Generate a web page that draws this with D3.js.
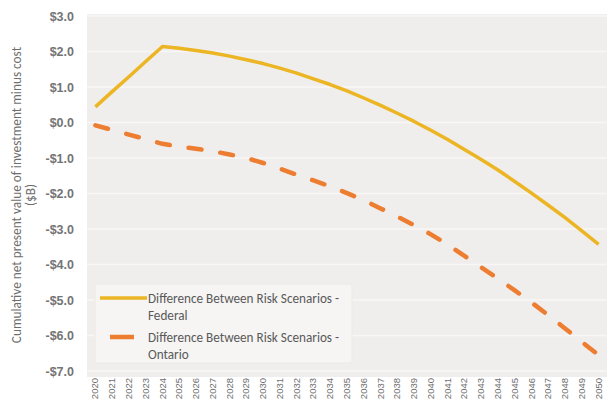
<!DOCTYPE html>
<html>
<head>
<meta charset="utf-8">
<script src="https://cdn.jsdelivr.net/npm/d3@7"></script>
<style>
  html, body { margin: 0; padding: 0; background: #ffffff; }
  svg { display: block; font-family: Carlito, Lato, "Open Sans", "Noto Sans", sans-serif; }
</style>
</head>
<body>
<svg id="chart" width="607" height="403"></svg>
<script>
// Years on the category axis
const years = d3.range(2020, 2051).map(String);

// Cumulative NPV of investment minus cost ($B), difference between risk scenarios
const federal = [
  0.44, 0.87, 1.29, 1.72, 2.14, 2.09, 2.03, 1.96, 1.87, 1.77,
  1.66, 1.53, 1.39, 1.23, 1.07, 0.89, 0.69, 0.48, 0.26, 0.03,
  -0.22, -0.48, -0.76, -1.04, -1.34, -1.66, -1.99, -2.33, -2.68, -3.05,
  -3.43
];
const ontario = [
  -0.08, -0.21, -0.34, -0.47, -0.60, -0.68, -0.74, -0.81, -0.90, -1.00,
  -1.14, -1.30, -1.47, -1.63, -1.80, -1.99, -2.19, -2.42, -2.65, -2.89,
  -3.15, -3.44, -3.76, -4.08, -4.40, -4.73, -5.07, -5.43, -5.80, -6.18,
  -6.55
];

// Y axis ticks and series labels
const yTicks = [3, 2, 1, 0, -1, -2, -3, -4, -5, -6, -7];
const seriesNames = [
  ["Difference Between Risk Scenarios -", "Federal"],
  ["Difference Between Risk Scenarios -", "Ontario"]
];
const colors = ["#ebb523", "#ed7d31"];

const svg = d3.select("#chart");
const plot = { left: 87, right: 607, top: 16, bottom: 371 };

const x = d3.scaleBand().domain(years).range([plot.left, plot.right]);
const y = d3.scaleLinear().domain([-7, 3]).range([plot.bottom, plot.top]);

// Plot area background
svg.append("rect")
  .attr("x", plot.left).attr("y", plot.top - 2)
  .attr("width", plot.right - plot.left).attr("height", plot.bottom - plot.top + 8)
  .attr("fill", "#f0eeec");

// Horizontal gridlines
svg.append("g")
  .selectAll("line")
  .data(yTicks)
  .join("line")
  .attr("x1", plot.left).attr("x2", plot.right)
  .attr("y1", d => y(d)).attr("y2", d => y(d))
  .attr("stroke", "#f8f7f6").attr("stroke-width", 1.5);

// Y axis labels
const fmt = d => (d < 0 ? "-$" : "$") + Math.abs(d).toFixed(1);
const yAxis = svg.append("g")
  .attr("transform", "translate(74,0)")
  .call(d3.axisLeft(y).tickValues(yTicks).tickFormat(fmt).tickSize(0).tickPadding(0));
yAxis.select(".domain").remove();
yAxis.selectAll("text")
  .attr("fill", "#747474").attr("font-size", 12.5).attr("font-weight", 600);

// X axis labels (rotated years)
const xAxis = svg.append("g")
  .attr("transform", `translate(0,${plot.bottom + 7})`)
  .call(d3.axisBottom(x).tickSize(0).tickPadding(0));
xAxis.select(".domain").remove();
xAxis.selectAll("text")
  .attr("fill", "#6e6e6e").attr("font-size", 9.5)
  .attr("transform", "rotate(-90)")
  .attr("text-anchor", "end")
  .attr("dx", 0).attr("dy", "0.32em")
  .attr("x", 0).attr("y", 0);

// Y axis title
const title = svg.append("text")
  .attr("transform", "translate(21,195) rotate(-90)")
  .attr("text-anchor", "middle")
  .attr("fill", "#6e6e6e").attr("font-size", 13.3);
title.append("tspan").attr("x", 0).attr("dy", 0)
  .text("Cumulative net present value of investment minus cost");
title.append("tspan").attr("x", 0).attr("dy", "1.05em").text("($B)");

// Series lines
const line = d3.line()
  .x((d, i) => x(years[i]) + x.bandwidth() / 2)
  .y(d => y(d));

svg.append("path")
  .datum(federal)
  .attr("d", line)
  .attr("fill", "none")
  .attr("stroke", colors[0]).attr("stroke-width", 3.5)
  .attr("stroke-linejoin", "round");

svg.append("path")
  .datum(ontario)
  .attr("d", line)
  .attr("fill", "none")
  .attr("stroke", colors[1]).attr("stroke-width", 4.5)
  .attr("stroke-dasharray", "13,19")
  .attr("stroke-linecap", "round");

// Legend
const legend = svg.append("g");
legend.append("rect")
  .attr("x", 95).attr("y", 284).attr("width", 257).attr("height", 79)
  .attr("fill", "#f6f5f4").attr("stroke", "#ebe9e6");

const rows = [298, 337];
legend.append("line")
  .attr("x1", 100).attr("x2", 147).attr("y1", rows[0]).attr("y2", rows[0])
  .attr("stroke", colors[0]).attr("stroke-width", 3.5);
legend.append("line")
  .attr("x1", 110).attr("x2", 134).attr("y1", rows[1]).attr("y2", rows[1])
  .attr("stroke", colors[1]).attr("stroke-width", 4.5);

seriesNames.forEach((name, i) => {
  const t = legend.append("text")
    .attr("x", 148).attr("y", rows[i] + 4.5)
    .attr("fill", "#595959").attr("font-size", 13.2);
  t.append("tspan").attr("x", 148).attr("dy", 0).text(name[0]);
  t.append("tspan").attr("x", 148).attr("dy", 17.5).text(name[1]);
});
</script>
</body>
</html>
